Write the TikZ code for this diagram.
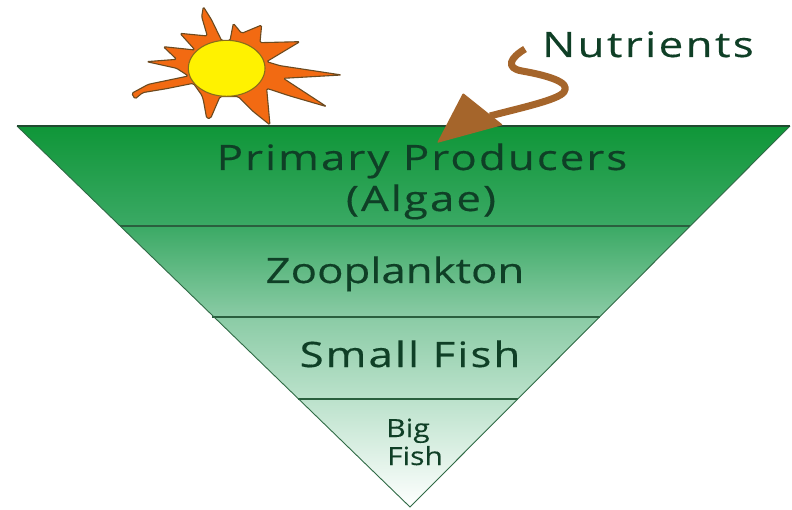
\documentclass[tikz,border=0pt]{standalone}
\usepackage{fontspec}
\setmainfont{Open Sans}
\newfontfamily\lblA[LetterSpace=6,FakeStretch=1.25,FakeBold=0.4]{Open Sans}
\newfontfamily\lblB[LetterSpace=7,FakeStretch=1.25,FakeBold=0.4]{Open Sans}
\newfontfamily\lblC[FakeStretch=1.25,FakeBold=0.4]{Open Sans}
\newfontfamily\lblD[FakeStretch=1.2,FakeBold=0.3]{Open Sans}
\usetikzlibrary{calc}
\definecolor{topgreen}{HTML}{0F9638}
\definecolor{midA}{HTML}{3AA964}
\definecolor{midB}{HTML}{8ACBA5}
\definecolor{midC}{HTML}{BCE2CC}
\definecolor{edgegreen}{HTML}{2F6A45}
\definecolor{inkgreen}{HTML}{0F3F26}
\definecolor{sunorange}{HTML}{F26A12}
\definecolor{sunedge}{HTML}{6B4A20}
\definecolor{sunyellow}{HTML}{FFF200}
\definecolor{brownarrow}{HTML}{A5652B}
\pgfdeclareverticalshading{foodweb}{100bp}{
  color(0bp)=(white);
  color(25bp)=(white);
  color(39bp)=(midC);
  color(50bp)=(midB);
  color(62bp)=(midA);
  color(75bp)=(topgreen);
  color(100bp)=(topgreen)}
\tikzset{
  layertext/.style={text=inkgreen,inner sep=0pt,anchor=base},
  divider/.style={draw=edgegreen!90!black,line width=1.3pt},
}
\begin{document}
\begin{tikzpicture}[x=1pt,y=-1pt]
\useasboundingbox[fill=white] (0,0) rectangle (792,510);
% inverted pyramid
\coordinate (tl) at (17,126);
\coordinate (tr) at (790,126);
\coordinate (ap) at (410,507);
\path[shading=foodweb] (tl) -- (tr) -- (ap) -- cycle;
\coordinate (a1) at (120,226); \coordinate (b1) at (690,226);
\coordinate (a2) at (212,317); \coordinate (b2) at (600,317);
\coordinate (a3) at (298,399); \coordinate (b3) at (518,399);
\draw[divider] (a1) -- (b1);
\draw[divider] (a2) -- (b2);
\draw[divider] (a3) -- (b3);
\draw[edgegreen,line width=0.9pt,line join=miter] (tl) -- (ap) -- (tr);
\draw[edgegreen!70!black,line width=2pt] (tl) -- (tr);
% sun
\begin{scope}[shift={(120,0)},x=0.3333pt,y=-0.3333pt]
\draw[draw=sunedge,fill=sunorange,line width=1.1pt,line join=round,rounded corners=1.5pt]
 (250,20) -- (275,60) -- (305,122) -- (330,122) -- (340,70) -- (365,100) -- (425,75)
 -- (420,128) -- (540,125) -- (440,185) -- (480,197) -- (665,225) -- (490,235)
 -- (620,320) -- (510,288) -- (440,265) -- (450,375) -- (400,335) -- (355,290)
 -- (300,290) -- (272,355) -- (260,355) -- (250,300) -- (245,285) -- (220,250)
 -- (140,266) -- (68,278) -- (45,297) -- (35,280) -- (85,253) -- (205,228) -- (170,205)
 -- (80,185) -- (170,178) -- (130,140) -- (225,150) -- (180,100) -- (262,108) -- (245,50) -- cycle;
\draw[draw=sunedge!80!sunyellow,fill=sunyellow,line width=1.1pt] (320,205) ellipse [x radius=115,y radius=84];
\end{scope}
% nutrients arrow
\coordinate (n0) at (525,49);
\coordinate (n1) at (490,116);
\draw[brownarrow,line width=7pt,line cap=butt,line join=round]
 (n0) .. controls (510,58) and (505,68) .. (522,71)
 .. controls (545,75) and (572,82) .. (564,92)
 .. controls (558,100) and (520,108) .. (n1);
\fill[brownarrow,rounded corners=1pt] (463,93) -- (503,125) -- (437,143) -- cycle;
% labels
\node[layertext,font=\lblB\fontsize{35}{40}\selectfont] (nut) at (648,57) {Nutrients};
\node[layertext,font=\lblA\fontsize{35}{40}\selectfont] (prim) at (422,170) {Primary Producers};
\node[layertext,font=\lblA\fontsize{35}{40}\selectfont] (alg) at (421,211) {(Algae)};
\node[layertext,font=\lblC\fontsize{35}{40}\selectfont] (zoo) at (395,283) {Zooplankton};
\node[layertext,font=\lblA\fontsize{35}{40}\selectfont] (small) at (410,367) {Small Fish};
\node[layertext,font=\lblD\fontsize{25}{30}\selectfont] (big) at (408,437) {Big};
\node[layertext,font=\lblD\fontsize{25}{30}\selectfont] (fish) at (415,465) {Fish};
\end{tikzpicture}
\end{document}
